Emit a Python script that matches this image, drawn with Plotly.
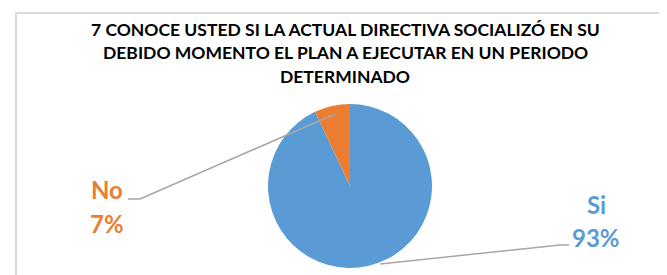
import plotly.graph_objects as go

title_lines = ["7 CONOCE USTED SI LA ACTUAL DIRECTIVA SOCIALIZÓ EN SU",
               "DEBIDO MOMENTO EL PLAN A EJECUTAR EN UN PERIODO",
               "DETERMINADO"]
labels = ["Si", "No"]
values = [93, 7]
colors = ["#5B9BD5", "#ED7D31"]

W, H = 667, 275
fig = go.Figure()
fig.add_trace(go.Pie(
    labels=labels, values=values, sort=False, direction="clockwise", rotation=0,
    marker=dict(colors=colors, line=dict(color="white", width=0)),
    textinfo="none", hoverinfo="label+percent", showlegend=False,
    domain=dict(x=[(342 - 85) / W, (342 + 85) / W], y=[(H - 260) / H, (H - 96) / H]),
))

def px(x):
    return x / W

def py(y):
    return 1 - y / H

# title (one annotation per line for line spacing control)
for i, t in enumerate(title_lines):
    fig.add_annotation(text=f"<b>{t}</b>", x=px(337), y=py(22 + 23 * i),
                       xref="paper", yref="paper",
                       xanchor="center", yanchor="middle", showarrow=False,
                       font=dict(family="Lato", size=17.5, color="#000000"))

# data labels
label_pos = {"No": (99, 181, 215), "Si": (588, 196, 229)}
for lab, val, col in zip(labels, values, colors):
    x, y1, y2 = label_pos[lab]
    for txt, yy in ((lab, y1), (f"{val}%", y2)):
        fig.add_annotation(text=f"<b>{txt}</b>", x=px(x), y=py(yy), xref="paper", yref="paper",
                           xanchor="center", yanchor="middle", showarrow=False,
                           font=dict(family="Lato", size=24, color=col))

# leader lines
fig.add_shape(type="path", xref="paper", yref="paper",
              path=f"M {px(120)} {py(191)} L {px(132)} {py(191)} L {px(327)} {py(106)}",
              line=dict(color="#a6a6a6", width=1.5))
fig.add_shape(type="path", xref="paper", yref="paper",
              path=f"M {px(561)} {py(237)} L {px(552)} {py(237)} L {px(372)} {py(256)}",
              line=dict(color="#a6a6a6", width=1.5))

# chart border
fig.add_shape(type="rect", xref="paper", yref="paper",
              x0=px(8), x1=px(663), y0=-0.1, y1=py(5),
              line=dict(color="#d9d9d9", width=2), fillcolor="rgba(0,0,0,0)")

fig.update_layout(width=W, height=H, margin=dict(l=0, r=0, t=0, b=0),
                  paper_bgcolor="white", plot_bgcolor="white")
fig.write_html("out.html")
